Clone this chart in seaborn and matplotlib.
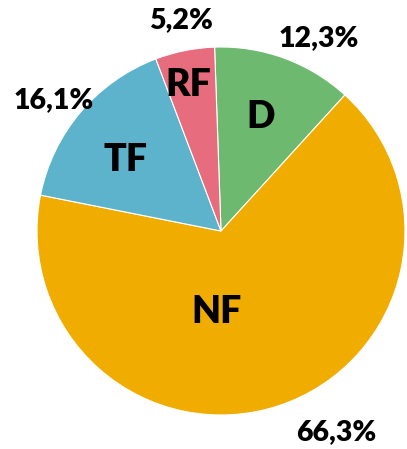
import matplotlib
matplotlib.use("Agg")
import matplotlib.pyplot as plt
import seaborn as sns

sns.set_theme(style="white")
plt.rcParams['font.family'] = ['Lato', 'DejaVu Sans']

categories = ["D", "NF", "TF", "RF"]
values = [12.3, 66.3, 16.1, 5.2]
pct_labels = ["12,3%", "66,3%", "16,1%", "5,2%"]
colors = ["#6CB96F", "#F0AD00", "#5DB3CC", "#E66C7E"]

# label placements (data coords, pie radius = 1)
pct_pos = [(0.533, 1.049), (0.625, -1.092), (-0.908, 0.712), (-0.217, 1.147)]
cat_pos = [(0.217, 0.62), (-0.022, -0.44), (-0.516, 0.386), (-0.179, 0.793)]

W, H = 407, 449
fig = plt.figure(figsize=(W / 100, H / 100), dpi=100)
cx, cy, r = 221, 231, 184
ax = fig.add_axes([(cx - r) / W, (H - cy - r) / H, 2 * r / W, 2 * r / H])
ax.pie(values, colors=colors, startangle=92, counterclock=False, radius=1,
       wedgeprops=dict(edgecolor="white", linewidth=0.8))
ax.set_xlim(-1, 1)
ax.set_ylim(-1, 1)
ax.set_aspect("equal")
ax.axis("off")

for (x, y), t in zip(pct_pos, pct_labels):
    ax.text(x, y, t, ha="center", va="center", fontsize=20.5, fontweight="heavy",
            color="black", clip_on=False)
for (x, y), t in zip(cat_pos, categories):
    ax.text(x, y, t, ha="center", va="center", fontsize=27, fontweight="heavy",
            color="black", clip_on=False)

fig.savefig("out.png", dpi=100)
